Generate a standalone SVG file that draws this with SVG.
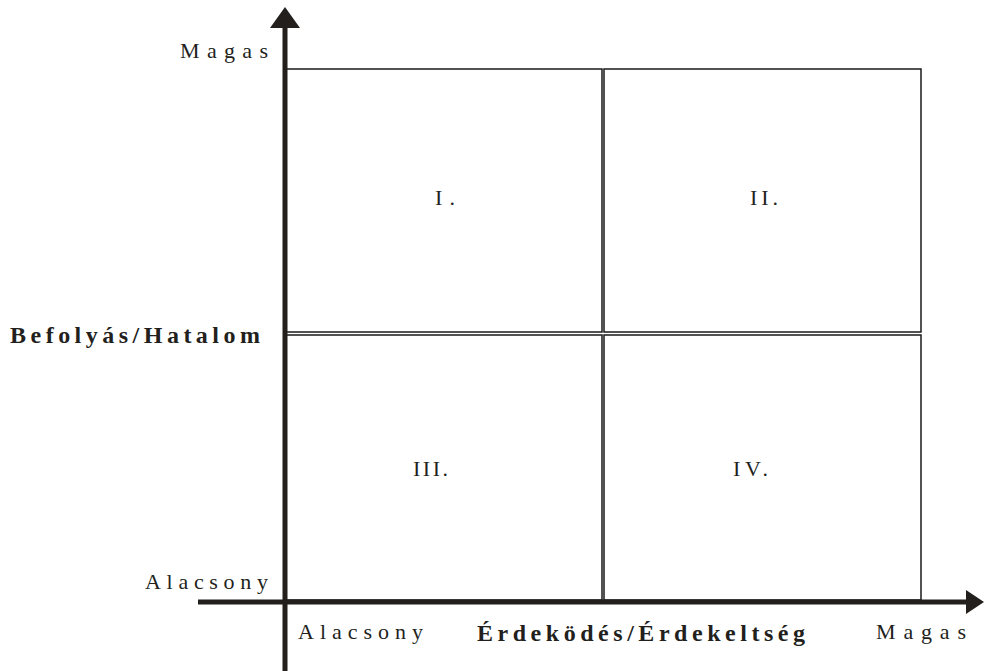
<svg xmlns="http://www.w3.org/2000/svg" width="984" height="671" viewBox="0 0 984 671">
<style>
.q{fill:none;stroke:#1a1a1a;stroke-width:1.5}
.ax{stroke:#231f1c;stroke-width:5}
.hd{fill:#231f1c}
text{font-family:"Liberation Serif","Times New Roman",serif;font-size:22px;fill:#231f1c}
.b{font-weight:bold;font-size:24px}
</style>
<rect width="984" height="671" fill="#fff"/>
<g id="quadrant-I"><rect class="q" x="286" y="69" width="316" height="263"/><text x="435" y="205" textLength="20" lengthAdjust="spacing">I.</text></g>
<g id="quadrant-II"><rect class="q" x="604" y="69" width="317" height="263"/><text x="750" y="205" textLength="28" lengthAdjust="spacing">II.</text></g>
<g id="quadrant-III"><rect class="q" x="286" y="335" width="316" height="265"/><text x="413" y="476" textLength="35" lengthAdjust="spacing">III.</text></g>
<g id="quadrant-IV"><rect class="q" x="604" y="335" width="317" height="265"/><text x="733" y="476" textLength="35" lengthAdjust="spacing">IV.</text></g>
<g id="connectors">
<line class="ax" x1="285" y1="24" x2="285" y2="671"/>
<polygon class="hd" points="285,7 270,28 300,28"/>
<line class="ax" x1="198" y1="602" x2="968" y2="602"/>
<polygon class="hd" points="984,602 966,590 966,614"/>
</g>
<g id="labels">
<text x="180" y="58" textLength="88" lengthAdjust="spacing">Magas</text>
<text class="b" x="10" y="343" textLength="250" lengthAdjust="spacing">Befolyás/Hatalom</text>
<text x="145" y="589" textLength="123" lengthAdjust="spacing">Alacsony</text>
<text x="298" y="639" textLength="125" lengthAdjust="spacing">Alacsony</text>
<text class="b" x="477" y="641" textLength="328" lengthAdjust="spacing">Érdeködés/Érdekeltség</text>
<text x="876" y="639" textLength="90" lengthAdjust="spacing">Magas</text>
</g>
</svg>
